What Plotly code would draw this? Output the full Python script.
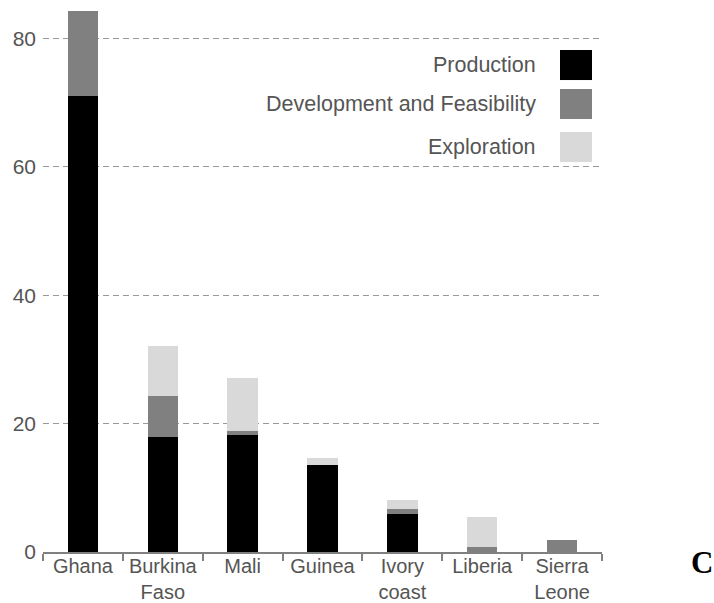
import plotly.graph_objects as go

countries = ["Ghana", "Burkina<br>Faso", "Mali", "Guinea", "Ivory<br>coast", "Liberia", "Sierra<br>Leone"]
production = [71.0, 17.9, 18.2, 13.5, 5.9, 0.0, 0.0]
development = [13.3, 6.4, 0.7, 0.0, 0.8, 0.8, 1.9]
exploration = [0.0, 7.8, 8.2, 1.1, 1.4, 4.7, 0.0]
series_names = ["Production", "Development and Feasibility", "Exploration"]
series_colors = ["#000000", "#808080", "#d9d9d9"]
y_ticks = [0, 20, 40, 60, 80]

FONT = "Liberation Sans, Arial, sans-serif"
TXT = "#555555"

fig = go.Figure()
for name, vals, col in zip(series_names, [production, development, exploration], series_colors):
    fig.add_trace(go.Bar(x=countries, y=vals, name=name, marker=dict(color=col, line=dict(width=0)),
                         showlegend=False))

# custom legend (text left of swatch, right-aligned)
sw_top = [0.9279, 0.8558, 0.7763]
sw_h = 0.0555
for name, col, top in zip(series_names, series_colors, sw_top):
    fig.add_shape(type="rect", xref="paper", yref="paper", x0=0.9249, x1=0.9821,
                  y0=top - sw_h, y1=top, fillcolor=col, line=dict(width=0))
    fig.add_annotation(xref="paper", yref="paper", x=0.8855, y=top - sw_h / 2, text=name,
                       showarrow=False, xanchor="right", yanchor="middle",
                       font=dict(family=FONT, size=21.5, color=TXT))

fig.add_annotation(xref="paper", yref="paper", x=1.179, y=-0.0185, text="<b>C</b>",
                   showarrow=False, xanchor="center", yanchor="middle",
                   font=dict(family="Liberation Serif, Times New Roman, serif", size=31, color="#000000"))

fig.update_layout(
    barmode="stack",
    bargap=0.62,
    width=714, height=603,
    margin=dict(l=43, r=112, t=11, b=51, autoexpand=False),
    plot_bgcolor="white", paper_bgcolor="white",
    font=dict(family=FONT, size=20, color=TXT),
    xaxis=dict(
        showgrid=False, showline=True, linecolor="#808080", linewidth=2,
        ticks="outside", ticklen=7, tickwidth=2, tickcolor="#808080",
        tickson="boundaries", automargin=False, ticklabelstandoff=-5,
        tickfont=dict(family=FONT, size=20, color=TXT),
    ),
    yaxis=dict(
        range=[0, 84.3], tickvals=y_ticks, showgrid=True, gridcolor="#999999", gridwidth=1,
        griddash="6px,4px", zeroline=False, showline=False, ticks="", automargin=False,
        ticklabelstandoff=6, tickfont=dict(family=FONT, size=21, color=TXT),
    ),
)

fig.write_html("out.html", config={"displayModeBar": False},
               post_script="document.body.style.margin='0px';document.body.style.overflow='hidden';")
